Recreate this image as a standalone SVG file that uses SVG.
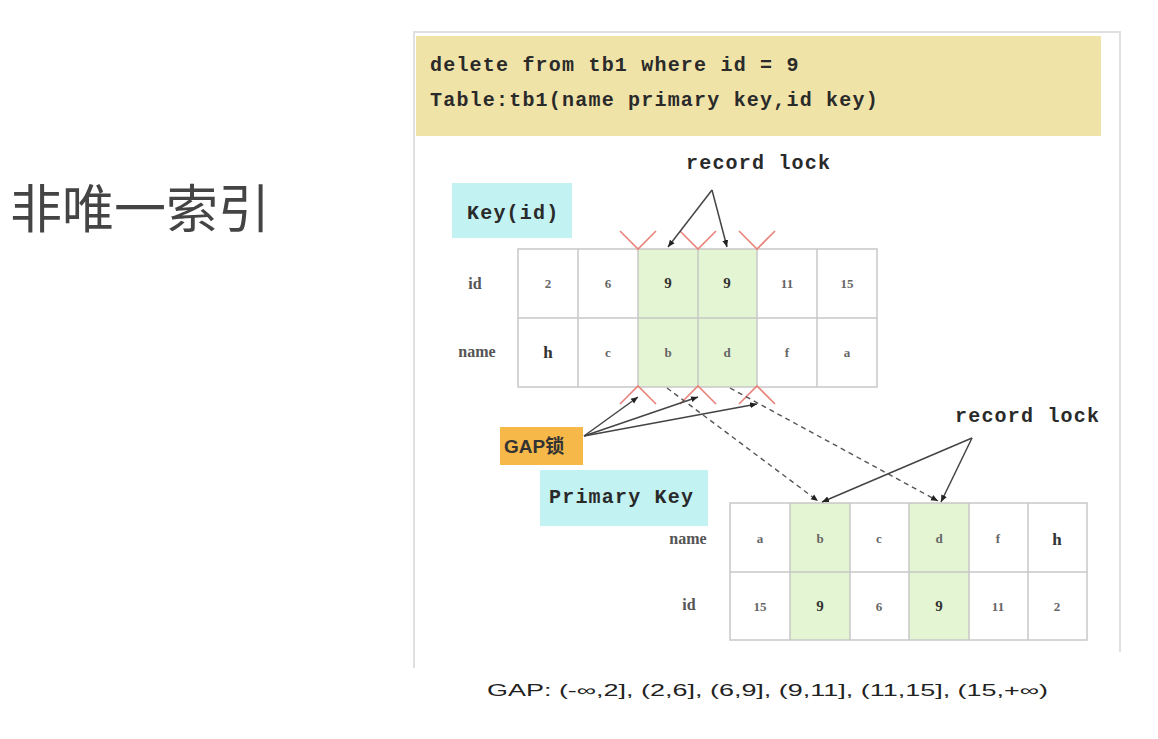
<svg xmlns="http://www.w3.org/2000/svg" width="1158" height="739" viewBox="0 0 1158 739">
<defs>
<style>
.mono{font-family:"Liberation Mono","DejaVu Sans Mono",monospace;font-size:20px;letter-spacing:1.2px;font-weight:bold;fill:#2a2a2a}
.cell{font-family:"Liberation Serif","DejaVu Serif",serif;font-size:13px;font-weight:bold;fill:#666;text-anchor:middle;dominant-baseline:central}
.hl{font-size:15px;fill:#333}
.big{font-size:17px;fill:#333}
.lab{font-family:"Liberation Serif","DejaVu Serif",serif;font-size:16px;font-weight:bold;fill:#555;text-anchor:middle;dominant-baseline:central}
.grid{fill:none;stroke:#c8c8c8;stroke-width:1.5}
.green{fill:#e3f5d2}
.red{fill:none;stroke:#e8837a;stroke-width:1.6}
.arr{fill:none;stroke:#444;stroke-width:1.5;marker-end:url(#ah)}
.dash{fill:none;stroke:#555;stroke-width:1.4;stroke-dasharray:5 4;marker-end:url(#ah)}
</style>
<marker id="ah" markerWidth="8" markerHeight="8" refX="7" refY="4" orient="auto" markerUnits="userSpaceOnUse">
<path d="M0,1 L7,4 L0,7 Z" fill="#222"/>
</marker>
</defs>
<rect width="1158" height="739" fill="#fff"/>
<g id="title">
<text x="10" y="228" font-family="'Noto Sans CJK SC',sans-serif" font-size="52" fill="#444">非唯一索引</text>
</g>
<g id="panel">
<path d="M414,668 L414,32 L1120,32 L1120,652" fill="none" stroke="#e0e0e0" stroke-width="2"/>
</g>
<g id="sql">
<rect x="416" y="36" width="685" height="100" fill="#f0e3a8"/>
<text class="mono" x="430" y="71">delete from tb1 where id = 9</text>
<text class="mono" x="430" y="106"> Table:tb1(name primary key,id key)</text>
</g>
<g id="key-label">
<rect x="452" y="183" width="120" height="55" fill="#c2f2f2"/>
<text class="mono" x="467" y="219">Key(id)</text>
</g>
<g id="key-table">
<rect class="green" x="638" y="249" width="119" height="138"/>
<rect class="grid" x="518" y="249" width="359" height="138"/>
<path class="grid" d="M578,249V387M638,249V387M698,249V387M757,249V387M817,249V387M518,318H877"/>
<text class="lab" x="475" y="283">id</text>
<text class="lab" x="477" y="351">name</text>
<text class="cell" x="548" y="283">2</text>
<text class="cell" x="608" y="283">6</text>
<text class="cell hl" x="668" y="283">9</text>
<text class="cell hl" x="727" y="283">9</text>
<text class="cell" x="787" y="283">11</text>
<text class="cell" x="847" y="283">15</text>
<text class="cell big" x="548" y="352">h</text>
<text class="cell" x="608" y="352">c</text>
<text class="cell" x="668" y="352">b</text>
<text class="cell" x="727" y="352">d</text>
<text class="cell" x="787" y="352">f</text>
<text class="cell" x="847" y="352">a</text>
</g>
<g id="gap-marks">
<path class="red" d="M620,231L638,249L656,231M680,231L698,249L716,231M739,231L757,249L775,231"/>
<path class="red" d="M620,404L638,386L656,404M680,404L698,386L716,404M739,404L757,386L775,404"/>
</g>
<g id="record-lock-1">
<text class="mono" x="686" y="169">record lock</text>
</g>
<g id="gap-lock">
<rect x="500" y="427" width="83" height="38" fill="#f7b84a"/>
<text x="504" y="453" font-family="'Liberation Sans','Noto Sans CJK SC',sans-serif" font-size="19" font-weight="bold" fill="#333">GAP锁</text>
</g>
<g id="pk-label">
<rect x="540" y="470" width="168" height="56" fill="#c2f2f2"/>
<text class="mono" x="549" y="503">Primary Key</text>
</g>
<g id="record-lock-2">
<text class="mono" x="955" y="422">record lock</text>
</g>
<g id="pk-table">
<rect class="green" x="790" y="503" width="60" height="137"/>
<rect class="green" x="909" y="503" width="60" height="137"/>
<rect class="grid" x="730" y="503" width="357" height="137"/>
<path class="grid" d="M790,503V640M850,503V640M909,503V640M969,503V640M1028,503V640M730,572H1087"/>
<text class="lab" x="688" y="538">name</text>
<text class="lab" x="689" y="604">id</text>
<text class="cell" x="760" y="538">a</text>
<text class="cell" x="820" y="538">b</text>
<text class="cell" x="879" y="538">c</text>
<text class="cell" x="939" y="538">d</text>
<text class="cell" x="998" y="538">f</text>
<text class="cell big" x="1057" y="539">h</text>
<text class="cell" x="760" y="606">15</text>
<text class="cell hl" x="820" y="606">9</text>
<text class="cell" x="879" y="606">6</text>
<text class="cell hl" x="939" y="606">9</text>
<text class="cell" x="998" y="606">11</text>
<text class="cell" x="1057" y="606">2</text>
</g>
<g id="connectors">
<path class="arr" d="M712,190L668,247"/>
<path class="arr" d="M712,190L727,247"/>
<path class="arr" d="M584,436L638,397"/>
<path class="arr" d="M584,436L698,397"/>
<path class="arr" d="M584,436L757,404"/>
<path class="dash" d="M667,388L818,501"/>
<path class="dash" d="M730,388L938,501"/>
<path class="arr" d="M972,438L822,502"/>
<path class="arr" d="M972,438L941,502"/>
</g>
<g id="footer">
<text x="487" y="696" font-family="'Liberation Sans','DejaVu Sans',sans-serif" font-size="16" fill="#222" textLength="561" lengthAdjust="spacingAndGlyphs">GAP: (-∞,2], (2,6], (6,9], (9,11], (11,15], (15,+∞)</text>
</g>
</svg>
